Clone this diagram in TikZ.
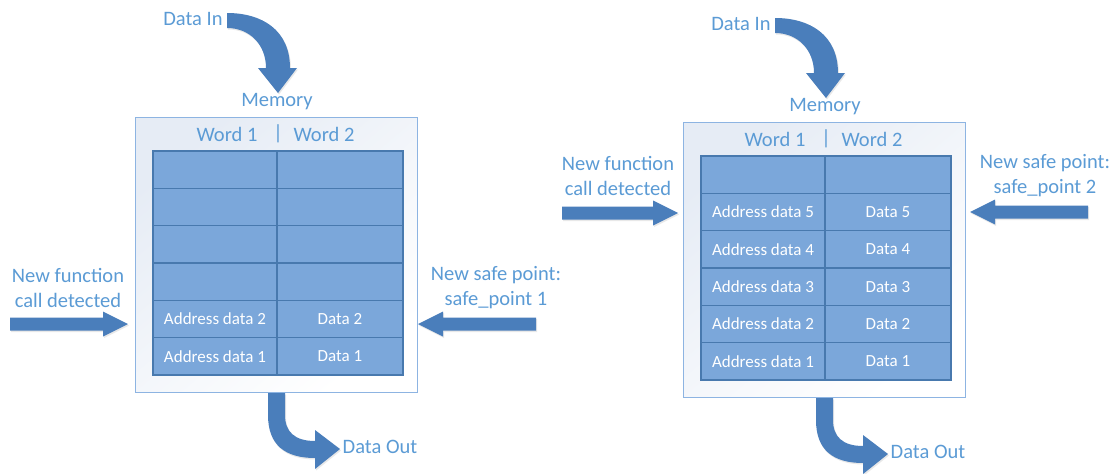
\documentclass[tikz,border=0pt]{standalone}
\usepackage{fontspec}
\setmainfont{Carlito}
\usetikzlibrary{shadows}

\definecolor{arrowblue}{HTML}{4A7EBB}
\definecolor{labelblue}{HTML}{5B9BD5}
\definecolor{cellfill}{HTML}{7BA7DA}
\definecolor{cellline}{HTML}{4879AE}
\definecolor{panelline}{HTML}{8DB4E2}
\definecolor{panelshade}{HTML}{E6ECF5}

\tikzset{
  blockarrow/.style={fill=arrowblue, draw=none,
    drop shadow={opacity=0.18, shadow xshift=1pt, shadow yshift=-1.5pt}},
  lbl/.style={text=labelblue, font=\fontsize{20.5}{25}\selectfont, align=center, inner sep=0pt},
  cell/.style={draw=cellline, line width=1.5pt, fill=cellfill, minimum height=37.33pt,
    text=white, font=\fontsize{17}{20}\selectfont, inner sep=0pt},
  panel/.style={draw=panelline, line width=1pt, top color=panelshade, bottom color=white,
    shading angle=40, minimum width=282pt, minimum height=275pt, inner sep=0pt},
}

% one memory panel: #1 name prefix, #2 rows as index/address/data
\newcommand\mempanel[2]{%
  \node[lbl] (#1in) at (193,19) {Data In};
  \node[lbl] (#1mem) at (277,102) {Memory};
  \node[panel] (#1box) at (276,254.5) {};
  \node[lbl] (#1w1) at (227,134) {Word 1};
  \node[lbl] (#1bar) at (278,134) {|};
  \node[lbl] (#1w2) at (324,134) {Word 2};
  \foreach \r/\a/\d in {#2} {
    \node[cell, minimum width=124pt] (#1a\r) at (215,{151+37.33*(\r+0.5)}) {\a};
    \node[cell, minimum width=126pt] (#1d\r) at (340,{151+37.33*(\r+0.5)}) {\d};
  }
  \node[lbl] (#1out) at (380,447) {Data Out};
  % curved arrow into the memory
  \path[blockarrow] (227,13) .. controls (262,13) and (290,30) .. (290,68)
    -- (297,68) -- (278,93) -- (258,68) -- (266,68)
    .. controls (266,45) and (250,28) .. (227,28) -- cycle;
  % curved arrow out of the memory
  \path[blockarrow] (268,393) -- (268,415) .. controls (268,445) and (285,458) .. (315,458)
    -- (315,469) -- (340,449) -- (315,430) -- (315,441)
    .. controls (295,441) and (285,432) .. (285,415) -- (285,393) -- cycle;
}

% straight block arrows: pointing right / left from a tail coordinate
\newcommand\arrowright[2]{%
  \path[blockarrow] (#1) ++(0,-6.5) -- ++(#2-25,0) -- ++(0,-6) -- ++(25,12.5)
    -- ++(-25,12.5) -- ++(0,-6) -- ++(-#2+25,0) -- cycle;}
\newcommand\arrowleft[2]{%
  \path[blockarrow] (#1) ++(0,-6.5) -- ++(-#2+25,0) -- ++(0,-6) -- ++(-25,12.5)
    -- ++(25,12.5) -- ++(0,-6) -- ++(#2-25,0) -- cycle;}

\begin{document}
\begin{tikzpicture}[x=1pt, y=-1pt]
  \useasboundingbox (0,0) rectangle (1120,474);
  \fill[white] (0,0) rectangle (1120,474);

  % first state of the memory
  \begin{scope}
    \mempanel{L}{0/{}/{},1/{}/{},2/{}/{},3/{}/{},4/Address data 2/Data 2,5/Address data 1/Data 1}
  \end{scope}
  \node[lbl] (Lfn) at (68,288) {New function\\call detected};
  \coordinate (Lfntail) at (10,324);
  \arrowright{Lfntail}{118}
  \node[lbl] (Lsp) at (496,288) {New safe point:\\safe\_point 1};
  \coordinate (Lsptail) at (536,324);
  \arrowleft{Lsptail}{118}

  % second state of the memory
  \begin{scope}[shift={(548,5)}]
    \mempanel{R}{0/{}/{},1/Address data 5/Data 5,2/Address data 4/Data 4,3/Address data 3/Data 3,4/Address data 2/Data 2,5/Address data 1/Data 1}
  \end{scope}
  \node[lbl] (Rfn) at (618,175.5) {New function\\call detected};
  \coordinate (Rfntail) at (562,213);
  \arrowright{Rfntail}{116}
  \node[lbl] (Rsp) at (1045,175.5) {New safe point:\\safe\_point 2};
  \coordinate (Rsptail) at (1088,212);
  \arrowleft{Rsptail}{118}
\end{tikzpicture}
\end{document}
